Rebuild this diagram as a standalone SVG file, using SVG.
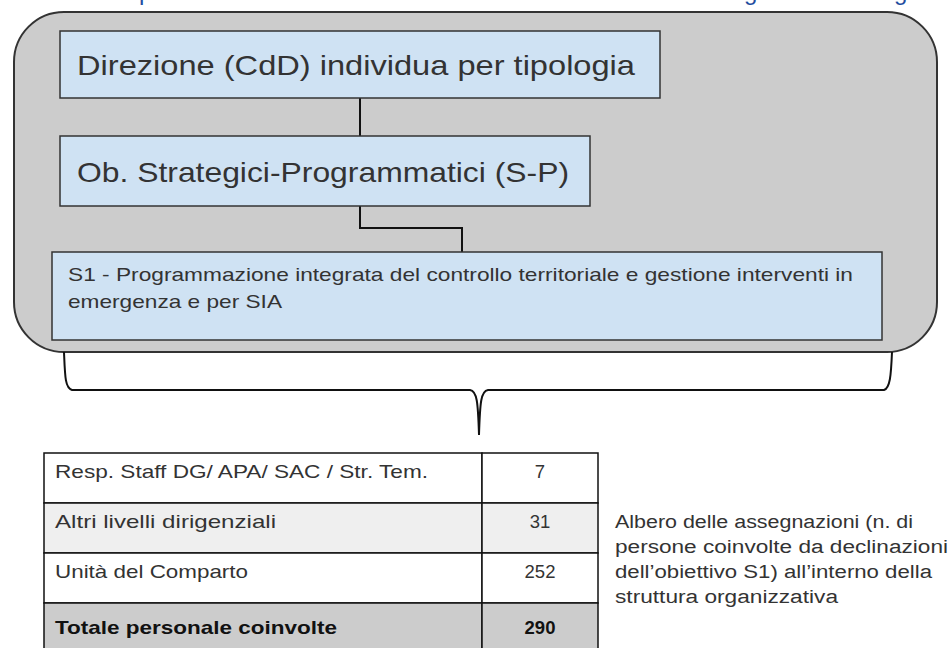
<svg xmlns="http://www.w3.org/2000/svg" width="949" height="648" viewBox="0 0 949 648">
<style>
.t{font-family:"Liberation Sans",Arial,sans-serif;fill:#333333}
.box{fill:#cfe2f3;stroke:#333333;stroke-width:1.5}
.conn{fill:none;stroke:#111111;stroke-width:2}
.cell{stroke:#111111;stroke-width:1.5}
.b{font-weight:bold;fill:#111111}
.top{font-family:"Liberation Sans",Arial,sans-serif;fill:#1f4ea0;font-size:24px}
</style>
<rect x="0" y="0" width="949" height="648" fill="#ffffff"/>
<g id="cut-title">
<text class="top" x="139" y="0">p</text>
<text class="top" x="744" y="0">g</text>
<text class="top" x="894" y="0">g</text>
</g>
<g id="container">
<rect x="14" y="12" width="923" height="340" rx="50" ry="50" fill="#cccccc" stroke="#333333" stroke-width="2"/>
</g>
<g id="connectors">
<path class="conn" d="M360,98 V136"/>
<path class="conn" d="M360,206 V228 H462 V252"/>
<path class="conn" d="M64,352 C65,376 65,388 72,390 L470,390 C477,391 478,402 479,435 C480,402 481,391 488,390 L884,390 C890,388 891,376 892,352"/>
</g>
<g id="node-direzione">
<rect class="box" x="60" y="31" width="600" height="67"/>
<text class="t" x="77" y="75" font-size="28" textLength="558" lengthAdjust="spacingAndGlyphs">Direzione (CdD) individua per tipologia</text>
</g>
<g id="node-obiettivi">
<rect class="box" x="60" y="136" width="530" height="70"/>
<text class="t" x="77" y="182" font-size="28" textLength="492" lengthAdjust="spacingAndGlyphs">Ob. Strategici-Programmatici (S-P)</text>
</g>
<g id="node-s1">
<rect class="box" x="52" y="252" width="830" height="88"/>
<text class="t" x="68" y="281" font-size="19" textLength="785" lengthAdjust="spacingAndGlyphs">S1 - Programmazione integrata del controllo territoriale e gestione interventi in</text>
<text class="t" x="68" y="308" font-size="19" textLength="214" lengthAdjust="spacingAndGlyphs">emergenza e per SIA</text>
</g>
<g id="table">
<rect class="cell" x="44" y="453" width="438" height="50" fill="#ffffff"/>
<rect class="cell" x="482" y="453" width="116" height="50" fill="#ffffff"/>
<rect class="cell" x="44" y="503" width="438" height="50" fill="#efefef"/>
<rect class="cell" x="482" y="503" width="116" height="50" fill="#efefef"/>
<rect class="cell" x="44" y="553" width="438" height="50" fill="#ffffff"/>
<rect class="cell" x="482" y="553" width="116" height="50" fill="#ffffff"/>
<rect class="cell" x="44" y="603" width="438" height="50" fill="#cccccc"/>
<rect class="cell" x="482" y="603" width="116" height="50" fill="#cccccc"/>
<text class="t" x="55" y="478" font-size="18.5" textLength="373" lengthAdjust="spacingAndGlyphs">Resp. Staff DG/ APA/ SAC / Str. Tem.</text>
<text class="t" x="540" y="478" font-size="18.5" text-anchor="middle">7</text>
<text class="t" x="55" y="528" font-size="18.5" textLength="221" lengthAdjust="spacingAndGlyphs">Altri livelli dirigenziali</text>
<text class="t" x="540" y="528" font-size="18.5" text-anchor="middle">31</text>
<text class="t" x="55" y="578" font-size="18.5" textLength="193" lengthAdjust="spacingAndGlyphs">Unità del Comparto</text>
<text class="t" x="540" y="578" font-size="18.5" text-anchor="middle">252</text>
<text class="t b" x="55" y="634" font-size="18.5" textLength="282" lengthAdjust="spacingAndGlyphs">Totale personale coinvolte</text>
<text class="t b" x="540" y="634" font-size="18.5" text-anchor="middle">290</text>
</g>
<g id="caption">
<text class="t" x="615" y="528" font-size="18" textLength="298" lengthAdjust="spacingAndGlyphs">Albero delle assegnazioni (n. di</text>
<text class="t" x="615" y="553" font-size="18" textLength="333" lengthAdjust="spacingAndGlyphs">persone coinvolte da declinazioni</text>
<text class="t" x="615" y="578" font-size="18" textLength="317" lengthAdjust="spacingAndGlyphs">dell’obiettivo S1) all’interno della</text>
<text class="t" x="615" y="603" font-size="18" textLength="223" lengthAdjust="spacingAndGlyphs">struttura organizzativa</text>
</g>
</svg>
